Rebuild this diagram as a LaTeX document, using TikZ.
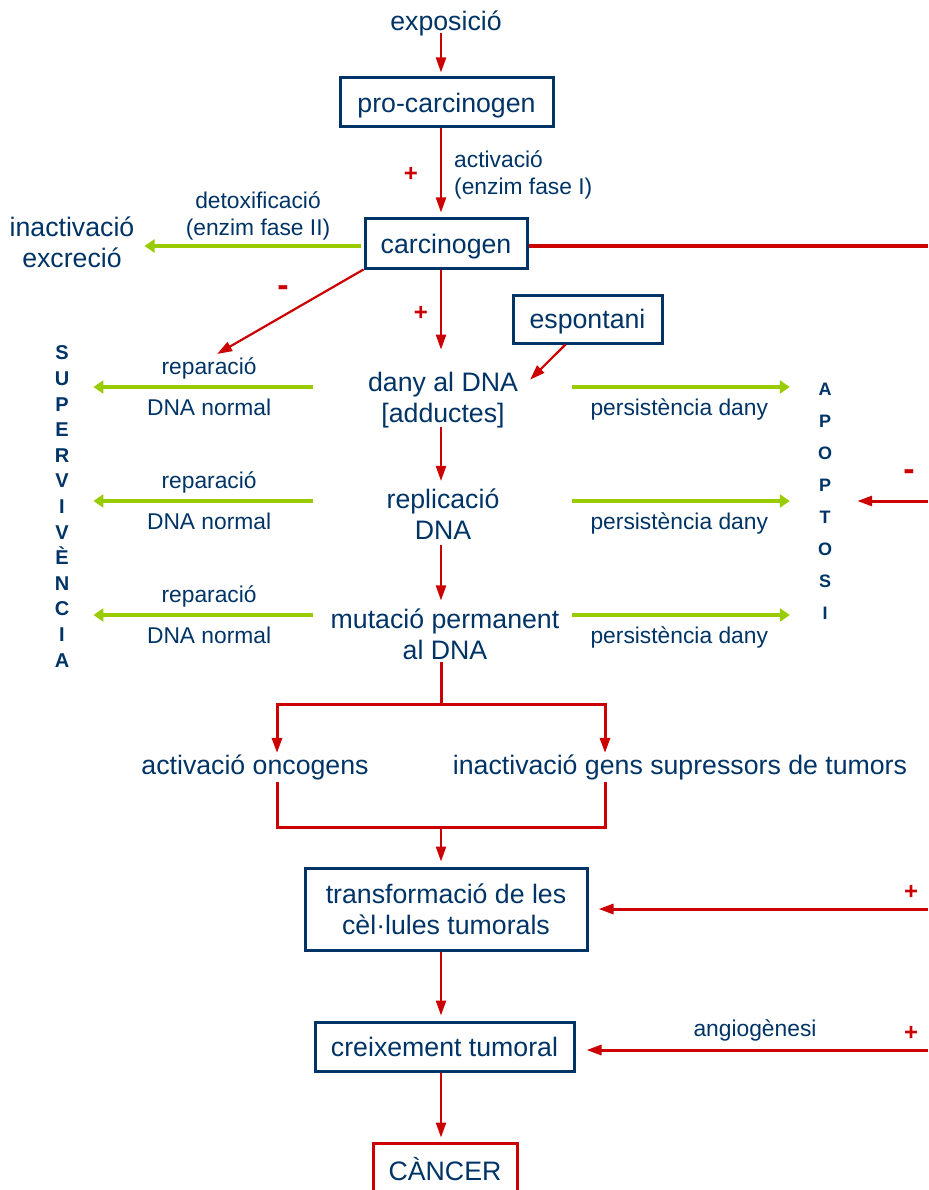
\documentclass[tikz,border=0pt]{standalone}
\usepackage{fontspec}
\setmainfont{Liberation Sans}
\usepackage{tikz}
\usetikzlibrary{arrows.meta,positioning,calc}
\definecolor{mynavy}{RGB}{0,51,102}
\definecolor{myred}{RGB}{204,0,0}
\definecolor{mygreen}{RGB}{153,204,0}
\tikzstyle{txt}=[text=mynavy,font=\fontsize{26.7}{31}\selectfont,align=center,inner sep=2pt,text depth=0pt]
\tikzstyle{lbl}=[text=mynavy,font=\fontsize{22.8}{27}\selectfont,align=center,inner sep=2pt]
\tikzstyle{box}=[txt,draw=mynavy,line width=3pt,minimum height=49pt]
\tikzstyle{plus}=[text=myred,font=\bfseries\fontsize{24}{24}\selectfont,inner sep=0pt]
\tikzstyle{minus}=[text=myred,font=\bfseries\fontsize{34}{34}\selectfont,inner sep=0pt]
\tikzstyle{vert}=[text=mynavy,font=\bfseries\fontsize{20}{25.6}\selectfont,align=center,inner sep=2pt]
\tikzstyle{redarrow}=[draw=myred,line width=2.2pt,-{Triangle[length=15pt,width=10pt]}]
\tikzstyle{redline}=[draw=myred,line width=3pt]
\tikzstyle{greenarrow}=[draw=mygreen,line width=3.5pt,-{Triangle[length=10pt,width=13pt]}]

\begin{document}
\begin{tikzpicture}[x=1pt,y=-1pt]
\useasboundingbox (0,0) rectangle (928,1190);
\node [txt] (expo) at (446,21) {exposició};
\node [box,minimum width=213pt] (pro) at (446.5,102.5) {pro-carcinogen};
\node [box,minimum width=162pt] (carc) at (446,243.5) {carcinogen};
\node [box,minimum width=149pt,minimum height=48pt] (esp) at (587.5,319) {espontani};
\node [txt] (dany) at (443,397) {dany al DNA\\{[adductes]}};
\node [txt] (repl) at (443,514.5) {replicació\\DNA};
\node [txt] (mut) at (445,634) {mutació permanent\\al DNA};
\node [txt] (onc) at (255,765) {activació oncogens};
\node [txt] (sup) at (680,765) {inactivació gens supressors de tumors};
\node [box,minimum width=282pt,minimum height=82pt] (trans) at (446,909) {transformació de les\\cèl·lules tumorals};
\node [box,minimum width=259pt] (creix) at (444.5,1046.5) {creixement tumoral};
\node [box,draw=myred,minimum width=144pt,minimum height=52pt] (canc) at (445,1169) {CÀNCER};

\node [txt] (inact) at (72,242.5) {inactivació\\excreció};
\node [lbl,anchor=west,align=left] (act) at (452,174.5) {activació\\(enzim fase I)};
\node [lbl] (detox) at (258,216) {detoxificació\\(enzim fase II)};
\node [lbl] (angio) at (755,1030) {angiogènesi};
\node [vert] (surv) at (62,506.5) {S\\U\\P\\E\\R\\V\\I\\V\\È\\N\\C\\I\\A};
\node [vert,font=\bfseries\fontsize{18}{32}\selectfont] (apop) at (825,501) {A\\P\\O\\P\\T\\O\\S\\I};

\node [plus] (p1) at (411,174) {+};
\node [plus] (p2) at (421,313) {+};
\node [plus] (p3) at (911,892) {+};
\node [plus] (p4) at (911,1033) {+};
\node [minus] (m1) at (283,291) {-};
\node [minus] (m2) at (909,475) {-};

\coordinate (col) at (441,0);
\coordinate (br) at (441,704);
\coordinate (brl) at (277,704);
\coordinate (brr) at (605,704);
\coordinate (jl) at (277,827);
\coordinate (jr) at (605,827);
\coordinate (jc) at (441,827);
\coordinate (re0) at (928,246);
\coordinate (re1) at (928,501);
\coordinate (re2) at (928,909);
\coordinate (re3) at (928,1050);

\draw [redarrow,shorten >=4pt] (expo.south -| col) -- (pro.north -| col);
\draw [redarrow,shorten >=5pt] (pro.south -| col) -- (carc.north -| col);
\draw [redarrow,shorten >=20pt] (carc.south -| col) -- (dany.north -| col);
\draw [redarrow,shorten <=3pt,shorten >=6pt] (dany.south -| col) -- (repl.north -| col);
\draw [redarrow,shorten <=3pt,shorten >=6pt] (repl.south -| col) -- (mut.north -| col);
\draw [redarrow] ([xshift=-22pt]esp.south) -- ([shift={(10pt,-10pt)}]dany.north east);
\draw [greenarrow,shorten <=3pt] (carc.west |- re0) -- ([xshift=8pt]inact.east |- re0);

\foreach \i/\y in {1/387,2/501,3/615}{
  \coordinate (gl\i) at (313,\y);
  \coordinate (gr\i) at (572,\y);
  \draw [greenarrow,shorten >=22pt] (gl\i) -- node [lbl,pos=0.43,above=4pt] (rep\i) {reparació}
    node [lbl,pos=0.43,below=8pt] (norm\i) {DNA normal} (surv.east |- gl\i);
  \draw [greenarrow,shorten >=26pt] (gr\i) -- node [lbl,pos=0.44,below=8pt] (pers\i) {persistència dany} (apop.west |- gr\i);
}
\draw [redarrow] (carc.south west) -- ([xshift=8pt]rep1.north);

\draw [redline] (mut.south -| col) -- (br);
\draw [redarrow,line width=3pt] (br) -| (onc.north -| brl);
\draw [redarrow,line width=3pt] (br) -| (sup.north -| brr);
\draw [redline] ([yshift=-5pt]onc.south -| jl) -- (jl) -- (jr) -- ([yshift=-5pt]sup.south -| jr);
\draw [redarrow] (jc) -- ([yshift=5pt]trans.north -| col);
\draw [redarrow,shorten >=5pt] (trans.south -| col) -- (creix.north -| col);
\draw [redarrow,shorten >=4pt] (creix.south -| col) -- (canc.north -| col);

\draw [redline] (carc.east |- re0) -- (re0);
\draw [redarrow,line width=3pt,shorten >=23pt] (re1) -- (apop.east |- re1);
\draw [redarrow,line width=3pt,shorten >=10pt] (re2) -- (trans.east |- re2);
\draw [redarrow,line width=3pt,shorten >=11pt] (re3) -- (creix.east |- re3);
\end{tikzpicture}
\end{document}
